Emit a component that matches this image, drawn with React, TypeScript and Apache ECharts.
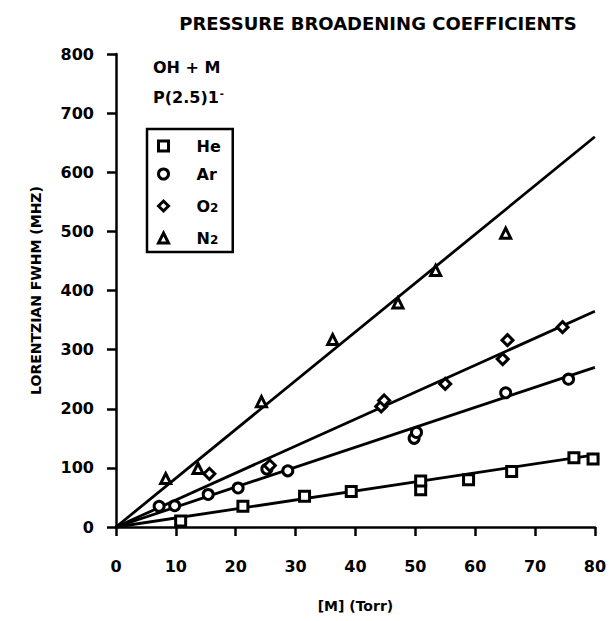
import React, { useEffect, useRef } from "react";
import * as echarts from "echarts";

const xTicks = [0, 10, 20, 30, 40, 50, 60, 70, 80];
const yTicks = [0, 100, 200, 300, 400, 500, 600, 700, 800];

const heData = [
  [10.8, 10], [21.2, 35], [31.5, 52], [39.3, 60], [50.9, 63], [50.9, 78],
  [58.9, 80], [66.1, 94], [76.5, 117], [79.7, 115],
];
const arData = [
  [7.2, 35], [9.8, 36], [15.4, 55], [20.4, 66], [25.2, 98], [28.7, 95],
  [49.8, 150], [50.2, 160], [65.1, 227], [75.6, 250],
];
const o2Data = [
  [15.6, 90], [25.7, 104], [44.3, 204], [44.8, 214], [55, 242], [64.6, 284],
  [65.4, 316], [74.6, 338],
];
const n2Data = [
  [8.3, 82], [13.7, 99], [24.3, 212], [36.2, 317], [47.1, 379], [53.4, 434],
  [65.1, 497],
];

// fitted lines: [x, y] endpoints
const heFit = [[0, 0], [80, 122]];
const arFit = [[0, 0], [80, 270]];
const o2Fit = [[0, 0], [80, 365]];
const n2Fit = [[0, 0], [80, 660]];

const seriesNames = ["He", "Ar", "O2", "N2"];

const FONT = "DejaVu Sans";

export default function App() {
  const ref = useRef<HTMLDivElement>(null);
  useEffect(() => {
    if (!ref.current) return;
    const chart = echarts.init(ref.current, null, { renderer: "svg" });
    const markerStyle = { color: "#fff", borderColor: "#000", borderWidth: 3, opacity: 1 };
    const lineSeries = (data: number[][]) => ({
      type: "line",
      data,
      showSymbol: false,
      silent: true,
      lineStyle: { color: "#000", width: 2.8 },
      z: 1,
    });
    const scatter = (name: string, data: number[][], symbol: string, size: number) => ({
      type: "scatter",
      name,
      data,
      symbol,
      symbolSize: size,
      itemStyle: markerStyle,
      z: 3,
    });
    chart.setOption({
      animation: false,
      backgroundColor: "#fff",
      title: {
        text: "PRESSURE BROADENING COEFFICIENTS",
        left: 373,
        textAlign: "center",
        top: 9,
        textStyle: { fontFamily: FONT, fontWeight: "bold", fontSize: 18, color: "#000" },
      },
      grid: { left: 116, right: 12, top: 54, bottom: 94, containLabel: false },
      xAxis: {
        type: "value",
        min: xTicks[0],
        max: xTicks[xTicks.length - 1],
        interval: 10,
        name: "[M] (Torr)",
        nameLocation: "middle",
        nameGap: 72,
        nameTextStyle: { fontFamily: FONT, fontWeight: "bold", fontSize: 14, color: "#000" },
        axisLine: { lineStyle: { color: "#000", width: 2.5 } },
        axisTick: { show: true, inside: false, length: 9, lineStyle: { color: "#000", width: 2.5 } },
        axisLabel: { margin: 31, fontFamily: FONT, fontWeight: "bold", fontSize: 16, color: "#000" },
        splitLine: { show: false },
      },
      yAxis: {
        type: "value",
        min: yTicks[0],
        max: yTicks[yTicks.length - 1],
        interval: 100,
        name: "LORENTZIAN FWHM (MHZ)",
        nameLocation: "middle",
        nameGap: 73,
        nameTextStyle: { fontFamily: FONT, fontWeight: "bold", fontSize: 14, color: "#000" },
        axisLine: { show: true, lineStyle: { color: "#000", width: 2.5 } },
        axisTick: { show: true, inside: false, length: 9, lineStyle: { color: "#000", width: 2.5 } },
        axisLabel: { margin: 22, fontFamily: FONT, fontWeight: "bold", fontSize: 16, color: "#000" },
        splitLine: { show: false },
      },
      legend: {
        orient: "vertical",
        left: 147,
        top: 129,
        data: [
          { name: seriesNames[0], icon: "rect" },
          { name: seriesNames[1], icon: "circle" },
          { name: seriesNames[2], icon: "diamond" },
          { name: seriesNames[3], icon: "triangle" },
        ],
        itemWidth: 10,
        itemHeight: 10,
        itemGap: 12,
        padding: [9, 12, 6, 10],
        borderColor: "#000",
        borderWidth: 2.5,
        borderRadius: 0,
        selectedMode: false,
        itemStyle: { color: "#fff", borderColor: "#000", borderWidth: 3, opacity: 1 },
        formatter: (n: string) => (n.length === 2 && n[1] === "2" ? n[0] + "{s|2}" : n),
        textStyle: {
          fontFamily: FONT,
          fontWeight: "bold",
          fontSize: 16,
          lineHeight: 16,
          color: "#000",
          padding: [0, 0, 0, 23],
          rich: {
            s: { fontFamily: FONT, fontWeight: "bold", fontSize: 12, color: "#000", verticalAlign: "bottom", lineHeight: 16, padding: [8, 0, 0, 0] },
          },
        },
      },
      graphic: [
        {
          type: "text",
          left: 153,
          top: 59,
          style: { text: "OH + M", font: `bold 16px "${FONT}"`, fill: "#000" },
        },
        {
          type: "text",
          left: 153,
          top: 88,
          style: {
            text: "P(2.5)1{sup|-}",
            font: `bold 16px "${FONT}"`,
            fill: "#000",
            rich: {
              sup: { font: `bold 10px "${FONT}"`, fill: "#000", verticalAlign: "top", padding: [0, 0, 8, 1] },
            },
          },
        },
      ],
      series: [
        lineSeries(heFit),
        lineSeries(arFit),
        lineSeries(o2Fit),
        lineSeries(n2Fit),
        scatter(seriesNames[0], heData, "rect", 10),
        scatter(seriesNames[1], arData, "circle", 10),
        scatter(seriesNames[2], o2Data, "diamond", 11),
        scatter(seriesNames[3], n2Data, "triangle", 10),
      ],
    });
    return () => chart.dispose();
  }, []);
  return (
    <div
      ref={ref}
      style={{ position: "fixed", left: 0, top: 0, width: 609, height: 621, background: "#fff" }}
    />
  );
}
